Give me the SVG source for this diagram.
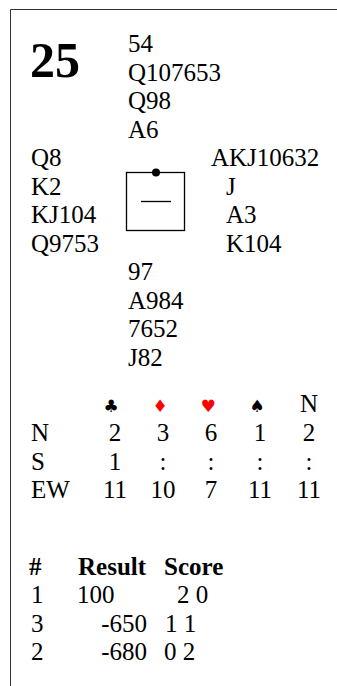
<svg xmlns="http://www.w3.org/2000/svg" width="337" height="686" viewBox="0 0 337 686">
<style>
text{font-family:"Liberation Serif","Times New Roman",serif;font-size:25px;fill:#000}
.b{font-weight:bold}
.c{text-anchor:middle}
.e{text-anchor:end}
.s{font-family:"DejaVu Sans",sans-serif;font-size:17px}
.r{fill:#f00}
</style>
<rect width="337" height="686" fill="#fff"/>
<path d="M10.5 686V9.5H337" fill="none" stroke="#333" stroke-width="1"/>
<g id="board"><text x="30" y="77" class="b" style="font-size:50px">25</text></g>
<g id="north">
<text x="128" y="52">54</text>
<text x="128" y="80.5">Q107653</text>
<text x="128" y="109">Q98</text>
<text x="128" y="137.5">A6</text>
</g>
<g id="west">
<text x="31" y="166">Q8</text>
<text x="31" y="194.5">K2</text>
<text x="31" y="223">KJ104</text>
<text x="31" y="251.5">Q9753</text>
</g>
<g id="east">
<text x="211" y="166">AKJ10632</text>
<text x="226" y="194.5">J</text>
<text x="226" y="223">A3</text>
<text x="226" y="251.5">K104</text>
</g>
<g id="compass">
<rect x="126.5" y="172.5" width="58" height="58" fill="none" stroke="#000" stroke-width="1.3"/>
<circle cx="156" cy="172.5" r="4" fill="#000"/>
<line x1="141" y1="201.5" x2="171" y2="201.5" stroke="#000" stroke-width="1.3"/>
</g>
<g id="south">
<text x="128" y="280">97</text>
<text x="128" y="308.5">A984</text>
<text x="128" y="337">7652</text>
<text x="128" y="365.5">J82</text>
</g>
<g id="table">
<text x="111" y="412" class="c s">♣</text>
<text x="160" y="412" class="c s r">♦</text>
<text x="208" y="412" class="c s r">♥</text>
<text x="257" y="412" class="c s">♠</text>
<text x="309" y="412" class="c">N</text>
<text x="31" y="441">N</text>
<text x="115" y="441" class="c">2</text>
<text x="163" y="441" class="c">3</text>
<text x="211" y="441" class="c">6</text>
<text x="260" y="441" class="c">1</text>
<text x="309" y="441" class="c">2</text>
<text x="31" y="469.5">S</text>
<text x="115" y="469.5" class="c">1</text>
<text x="163" y="469.5" class="c">:</text>
<text x="211" y="469.5" class="c">:</text>
<text x="260" y="469.5" class="c">:</text>
<text x="309" y="469.5" class="c">:</text>
<text x="31" y="498">EW</text>
<text x="115" y="498" class="c">11</text>
<text x="163" y="498" class="c">10</text>
<text x="211" y="498" class="c">7</text>
<text x="260" y="498" class="c">11</text>
<text x="309" y="498" class="c">11</text>
</g>
<g id="results">
<text x="29" y="575" class="b">#</text>
<text x="78" y="575" class="b">Result</text>
<text x="164" y="575" class="b">Score</text>
<text x="31" y="603">1</text>
<text x="77" y="603">100</text>
<text x="177" y="603">2 0</text>
<text x="31" y="632">3</text>
<text x="147" y="632" class="e">-650</text>
<text x="165" y="632">1 1</text>
<text x="31" y="660">2</text>
<text x="147" y="660" class="e">-680</text>
<text x="164" y="660">0 2</text>
</g>
</svg>
